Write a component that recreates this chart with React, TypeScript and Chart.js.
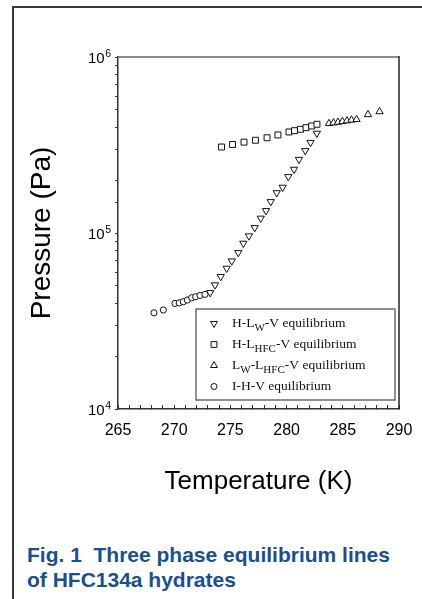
import React, { useEffect, useRef } from 'react';
import { Chart, registerables } from 'chart.js';

Chart.register(...registerables);

// H-Lw-V equilibrium (down triangles)
const hlwvT = [273.2, 273.63, 274.14, 274.67, 275.12, 275.7, 276.15, 276.65, 277.16, 277.7, 278.17, 278.59, 279.12, 279.65, 280.15, 280.66, 281.1, 281.66, 282.13, 282.69];
const hlwvP = [45800, 50700, 56500, 63000, 69300, 77300, 87400, 96200, 107200, 121300, 133900, 150600, 169200, 181800, 208900, 230000, 261700, 293600, 326800, 368500];

// H-LHFC-V equilibrium (squares)
const hlhvT = [274.21, 275.19, 276.21, 277.23, 278.26, 279.23, 280.21, 280.7, 281.24, 281.73, 282.23, 282.7];
const hlhvP = [308000, 318500, 328300, 336500, 347700, 360600, 375000, 381400, 388500, 396700, 405400, 414700];

// Lw-LHFC-V equilibrium (up triangles)
const lwlhvT = [283.77, 284.17, 284.57, 284.97, 285.37, 285.77, 286.22, 287.24, 288.27];
const lwlhvP = [419000, 422700, 426300, 430300, 434000, 438600, 441600, 471000, 489500];

// I-H-V equilibrium (circles)
const ihvT = [268.2, 269.03, 270.07, 270.45, 270.81, 271.17, 271.56, 271.91, 272.3, 272.74];
const ihvP = [35200, 36500, 39800, 40100, 40700, 41600, 42900, 43400, 44200, 44800];

const xMin = 265;
const xMax = 290;
const xLabelStep = 5;
const yMin = 1e4;
const yMax = 1e6;
const yTickValues = [1e4, 1e5, 1e6];
const yTickBase = '10';
const yTickExps = ['4', '5', '6'];

const xTitle = 'Temperature (K)';
const yTitle = 'Pressure (Pa)';
const captionLines = ['Fig. 1\u00a0\u00a0Three phase equilibrium lines', 'of HFC134a hydrates'];

// legend entries: [text, isSubscript][]
const legendStyles = ['tdown', 'rect', 'tup', 'circle'];
const legendParts: [string, boolean][][] = [
  [['H-L', false], ['W', true], ['-V equilibrium', false]],
  [['H-L', false], ['HFC', true], ['-V equilibrium', false]],
  [['L', false], ['W', true], ['-L', false], ['HFC', true], ['-V equilibrium', false]],
  [['I-H-V equilibrium', false]],
];

const SANS = '"Liberation Sans", Arial, Helvetica, sans-serif';
const SERIF = '"Liberation Serif", "Times New Roman", serif';
const MARK = '#111';

function toPts(xs: number[], ys: number[]) {
  return xs.map((x, i) => ({ x, y: ys[i] }));
}

function drawMarker(ctx: CanvasRenderingContext2D, kind: string, x: number, y: number) {
  ctx.beginPath();
  if (kind === 'circle') {
    ctx.arc(x, y, 3, 0, Math.PI * 2);
  } else if (kind === 'rect') {
    const s = 2.9;
    ctx.rect(x - s, y - s, 2 * s, 2 * s);
  } else {
    const r = 4;
    const dir = kind === 'tdown' ? 1 : -1;
    ctx.moveTo(x, y + dir * r);
    ctx.lineTo(x - r * 0.866, y - dir * r * 0.5);
    ctx.lineTo(x + r * 0.866, y - dir * r * 0.5);
    ctx.closePath();
  }
  ctx.fillStyle = '#fff';
  ctx.fill();
  ctx.lineWidth = 1;
  ctx.strokeStyle = MARK;
  ctx.stroke();
}

const framePlugin = {
  id: 'frameAndLegend',
  afterDraw(chart: any) {
    const { ctx, chartArea: ca } = chart;
    ctx.save();
    // top border
    ctx.strokeStyle = '#8a8a8a';
    ctx.lineWidth = 2;
    ctx.beginPath();
    ctx.moveTo(ca.left, ca.top);
    ctx.lineTo(ca.right, ca.top);
    ctx.stroke();
    // right border
    ctx.strokeStyle = '#222';
    ctx.lineWidth = 1.5;
    ctx.beginPath();
    ctx.moveTo(ca.right, ca.top - 1);
    ctx.lineTo(ca.right, ca.bottom);
    ctx.stroke();

    // y tick labels with superscript exponents
    const ys = chart.scales.y;
    ctx.fillStyle = '#000';
    ctx.textBaseline = 'alphabetic';
    yTickValues.forEach((v, i) => {
      const py = ys.getPixelForValue(v);
      ctx.font = `10.5px ${SANS}`;
      const ew = ctx.measureText(yTickExps[i]).width;
      const right = ca.left - 7;
      ctx.textAlign = 'right';
      ctx.fillText(yTickExps[i], right, py - 0.5);
      ctx.font = `15px ${SANS}`;
      ctx.fillText(yTickBase, right - ew - 0.5, py + 5.5);
    });

    // legend box
    const bw = 199;
    const bh = 91;
    const bx = ca.right - 4 - bw;
    const by = ca.bottom - 9 - bh;
    ctx.fillStyle = '#fff';
    ctx.fillRect(bx, by, bw, bh);
    ctx.strokeStyle = '#555';
    ctx.lineWidth = 1.3;
    ctx.strokeRect(bx, by, bw, bh);

    legendParts.forEach((parts, i) => {
      const base = by + 18 + i * 21;
      drawMarker(ctx, legendStyles[i], bx + 18, base - 3.5);
      let tx = bx + 36;
      ctx.fillStyle = '#111';
      ctx.textAlign = 'left';
      ctx.textBaseline = 'alphabetic';
      parts.forEach(([txt, sub]) => {
        ctx.font = sub ? `11px ${SERIF}` : `13.5px ${SERIF}`;
        ctx.fillText(txt, tx, sub ? base + 3.5 : base);
        tx += ctx.measureText(txt).width;
      });
    });
    ctx.restore();
  },
};

export default function App() {
  const ref = useRef<HTMLCanvasElement>(null);

  useEffect(() => {
    const common = {
      showLine: false,
      pointBorderColor: MARK,
      pointBackgroundColor: '#fff',
      pointBorderWidth: 1,
    };
    const chart = new Chart(ref.current!, {
      type: 'scatter',
      data: {
        datasets: [
          { ...common, label: 'H-Lw-V equilibrium', data: toPts(hlwvT, hlwvP), pointStyle: 'triangle', pointRotation: 180, pointRadius: 4.2 },
          { ...common, label: 'H-LHFC-V equilibrium', data: toPts(hlhvT, hlhvP), pointStyle: 'rect', pointRadius: 4.2 },
          { ...common, label: 'Lw-LHFC-V equilibrium', data: toPts(lwlhvT, lwlhvP), pointStyle: 'triangle', pointRadius: 4.2 },
          { ...common, label: 'I-H-V equilibrium', data: toPts(ihvT, ihvP), pointStyle: 'circle', pointRadius: 3.1 },
        ],
      },
      options: {
        animation: false,
        responsive: false,
        maintainAspectRatio: false,
        layout: { padding: { top: 57, right: 23, left: 0, bottom: 0 } },
        plugins: {
          legend: { display: false },
          tooltip: { enabled: false },
        },
        scales: {
          x: {
            type: 'linear',
            min: xMin,
            max: xMax,
            afterFit: (s: any) => { s.height = 111; s.paddingLeft = 0; s.paddingRight = 0; },
            grid: { drawOnChartArea: false, tickLength: -4, color: '#333', lineWidth: 1 },
            border: { display: true, color: '#333', width: 1.5 },
            ticks: {
              stepSize: 1,
              autoSkip: false,
              maxRotation: 0,
              padding: 16,
              color: '#000',
              font: { family: SANS, size: 16 },
              callback: (v: any) => (Number(v) % xLabelStep === 0 ? String(v) : ''),
            },
            title: {
              display: true,
              text: xTitle,
              color: '#000',
              font: { family: SANS, size: 26 },
              padding: { top: 0, bottom: 23 },
            },
          },
          y: {
            type: 'logarithmic',
            min: yMin,
            max: yMax,
            afterFit: (s: any) => { s.width = 118; s.paddingTop = 0; s.paddingBottom = 0; },
            grid: { drawOnChartArea: false, tickLength: 3, color: '#333', lineWidth: 1 },
            border: { display: true, color: '#333', width: 1.5 },
            ticks: {
              autoSkip: false,
              padding: 4,
              color: '#000',
              font: { family: SANS, size: 15 },
              callback: () => '',
            },
            title: {
              display: true,
              text: yTitle,
              color: '#000',
              font: { family: SANS, size: 28 },
              padding: { top: 25, bottom: 0 },
            },
          },
        },
      },
      plugins: [framePlugin],
    } as any);
    return () => chart.destroy();
  }, []);

  return (
    <div style={{ position: 'absolute', left: 0, top: 0, width: 422, height: 599, overflow: 'hidden', background: '#fff' }}>
      <div style={{ position: 'absolute', left: 12, top: 6, width: 420, height: 600, borderLeft: '2px solid #3a3a3a', borderTop: '2px solid #3a3a3a' }} />
      <canvas ref={ref} width={422} height={520} style={{ position: 'absolute', left: 0, top: 0, width: 422, height: 520 }} />
      <div style={{ position: 'absolute', left: 27, top: 542, font: `bold 21px ${SANS}`, lineHeight: '25px', color: '#1a4f8f', whiteSpace: 'nowrap' }}>
        {captionLines.map((l, i) => (
          <div key={i}>{l}</div>
        ))}
      </div>
    </div>
  );
}
